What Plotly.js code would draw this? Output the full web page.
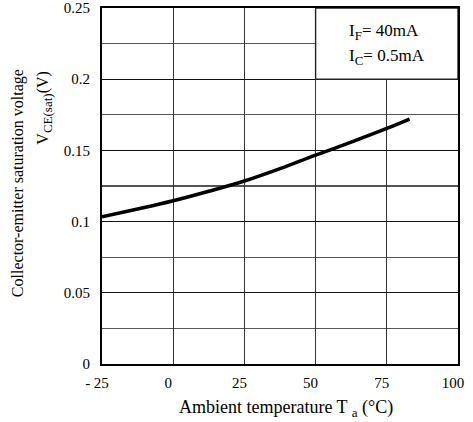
<!DOCTYPE html>
<html>
<head>
<meta charset="utf-8">
<script src="https://cdn.plot.ly/plotly-3.0.1.min.js"></script>
<style>html,body{margin:0;padding:0;background:#fff;}#chart{width:473px;height:422px;}</style>
</head>
<body>
<div id="chart"></div>
<script>
// Data
const temperature = [-25, -12.5, 0, 12.5, 25, 37.5, 50, 62.5, 75, 83];
const vceSat = [0.1033, 0.1088, 0.1146, 0.1213, 0.1285, 0.1372, 0.1467, 0.1558, 0.1654, 0.172];
const xTickVals = [-25, 0, 25, 50, 75, 100];
const xTickText = ['- 25', '0', '25', '50', '75', '100'];
const yTickVals = [0, 0.05, 0.1, 0.15, 0.2, 0.25];
const yTickText = ['0', '0.05', '0.1', '0.15', '0.2', '0.25'];
const conditionLabels = ['I<sub><span style="font-size:13px">F</span></sub>= 40mA', 'I<sub><span style="font-size:13px">C</span></sub>= 0.5mA'];
const xTitle = 'Ambient temperature T <sub><span style="font-size:13px">a</span></sub> (°C)';
const yTitleLines = ['Collector-emitter saturation voltage', 'V<sub><span style="font-size:13px">CE(sat)</span></sub>(V)'];

const fam = '"Liberation Serif", "Times New Roman", serif';
const font = {family: fam, size: 15, color: '#000'};

const trace = {
  x: temperature, y: vceSat, type: 'scatter', mode: 'lines',
  line: {color: '#000', width: 3.5, shape: 'spline'}, hoverinfo: 'skip'
};

const layout = {
  width: 473, height: 422,
  margin: {l: 102, r: 15.3, t: 8, b: 58.3},
  paper_bgcolor: '#fff', plot_bgcolor: '#fff',
  font: font,
  showlegend: false,
  xaxis: {
    range: [-25, 100], tickvals: xTickVals, ticktext: xTickText,
    showgrid: true, gridcolor: '#333', gridwidth: 1.3,
    zeroline: false, showline: true, linecolor: '#000', linewidth: 2, mirror: true,
    ticks: '', ticklabelstandoff: 4, ticklabelshift: -5, fixedrange: true
  },
  yaxis: {
    range: [0, 0.25], tickvals: yTickVals, ticktext: yTickText,
    showgrid: true, gridcolor: '#111', gridwidth: 1.3,
    minor: {dtick: 0.025, tick0: 0, showgrid: true, gridcolor: '#555', gridwidth: 1.3, ticks: ''},
    zeroline: false, showline: true, linecolor: '#000', linewidth: 2, mirror: true,
    ticks: '', ticklabelstandoff: 7, fixedrange: true
  },
  shapes: [{
    type: 'rect', xref: 'x', yref: 'y', x0: 50, x1: 100, y0: 0.2, y1: 0.25,
    fillcolor: '#fff', line: {color: '#222', width: 1.4}, layer: 'between'
  }],
  annotations: [
    {xref: 'x', yref: 'y', x: 61, y: 0.2333, text: conditionLabels[0], showarrow: false, xanchor: 'left', yanchor: 'middle', font: {family: fam, size: 17, color: '#000'}},
    {xref: 'x', yref: 'y', x: 61, y: 0.2158, text: conditionLabels[1], showarrow: false, xanchor: 'left', yanchor: 'middle', font: {family: fam, size: 17, color: '#000'}},
    {xref: 'paper', yref: 'paper', x: 0.517, y: -0.1245, text: xTitle, showarrow: false, xanchor: 'center', yanchor: 'middle', font: {family: fam, size: 18, color: '#000'}},
    {xref: 'paper', yref: 'paper', x: -0.236, y: 0.508, text: yTitleLines[0], textangle: -90, showarrow: false, xanchor: 'center', yanchor: 'middle', font: {family: fam, size: 16, color: '#000'}},
    {xref: 'paper', yref: 'paper', x: -0.163, y: 0.72, text: yTitleLines[1], textangle: -90, showarrow: false, xanchor: 'center', yanchor: 'middle', font: {family: fam, size: 16, color: '#000'}}
  ]
};

Plotly.newPlot('chart', [trace], layout, {staticPlot: true, displayModeBar: false});
</script>
</body>
</html>
